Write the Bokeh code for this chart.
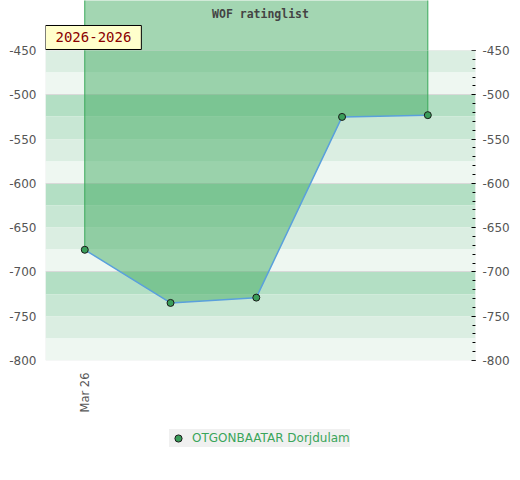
import math
from bokeh.plotting import figure
from bokeh.layouts import column
from bokeh.models import Range1d, FixedTicker, LinearAxis, Label, Legend, LegendItem, BoxAnnotation
from bokeh.embed import file_html
from bokeh.resources import INLINE

# ---- data ----
title_text = "WOF ratinglist"
period_text = "2026-2026"
player = "OTGONBAATAR Dorjdulam"
x_idx = [0, 1, 2, 3, 4]
x_tick_labels = {0: "Mar 26"}
ratings = [-675, -735, -729, -525, -523]
y_ticks = [-450, -500, -550, -600, -650, -700, -750, -800]
y_minor = list(range(-800, -449, 10))
band_top = [-450, -475, -500, -525, -550, -575, -600, -625, -650, -675, -700, -725, -750, -775]
band_bottom = [-475, -500, -525, -550, -575, -600, -625, -650, -675, -700, -725, -750, -775, -800]
band_colors = ["#dbeee2", "#eef7f1", "#b3dfc4", "#c8e7d4", "#dbeee2", "#eef7f1",
               "#b3dfc4", "#c8e7d4", "#dbeee2", "#eef7f1", "#b3dfc4", "#c8e7d4",
               "#dbeee2", "#eef7f1"]
grid_lines = [-500, -600, -700]

W, H_MAIN, H_LEG = 520, 415, 65
y_lo, y_hi = -800, -393.55
x_lo, x_hi = -0.458, 4.556

p = figure(width=W, height=H_MAIN, output_backend="svg", toolbar_location=None,
           x_range=Range1d(x_lo, x_hi), y_range=Range1d(y_lo, y_hi),
           min_border_left=45, min_border_right=45, min_border_top=0, min_border_bottom=55)
p.outline_line_color = None
p.xgrid.visible = False
p.ygrid.visible = False
p.background_fill_color = "white"
p.border_fill_color = "white"

p.hstrip(y0=band_top, y1=band_bottom, fill_color=band_colors, line_color=None)
p.hspan(y=grid_lines, line_color="#d9d9d9", line_width=1)

top_vals = [y_hi + 20] * len(x_idx)
p.varea(x=x_idx, y1=ratings, y2=top_vals, fill_color="#3ca85b", fill_alpha=0.47)
p.segment(x0=[x_idx[0], x_idx[-1]], y0=[ratings[0], ratings[-1]],
          x1=[x_idx[0], x_idx[-1]], y1=[y_hi + 20, y_hi + 20],
          line_color="#3aa85a", line_width=1)
p.line(x_idx, ratings, line_color="#5aa0dc", line_width=1.5)
p.scatter(x_idx, ratings, size=7, fill_color="#3a9e5a", line_color="#1a1a1a", line_width=1)

p.add_layout(BoxAnnotation(top=-450, bottom=-800, fill_alpha=0, line_color="#d6d6d6", line_width=1))

# axes
font = "DejaVu Sans"
p.xaxis.ticker = FixedTicker(ticks=list(x_tick_labels.keys()))
p.xaxis.major_label_overrides = x_tick_labels
p.xaxis.major_label_orientation = math.pi / 2
p.xaxis.axis_line_color = None
p.xaxis.major_tick_line_color = None
p.xaxis.minor_tick_line_color = None
p.xaxis.major_tick_out = 0
p.xaxis.minor_tick_out = 0
p.xaxis.major_label_standoff = 12
p.xaxis.major_label_text_font = font
p.xaxis.major_label_text_font_size = "11.5px"
p.xaxis.major_label_text_color = "#555555"

y_labels = {v: str(v) for v in y_ticks}
p.yaxis.ticker = FixedTicker(ticks=y_ticks)
p.yaxis.major_label_overrides = y_labels
p.yaxis.axis_line_color = None
p.yaxis.major_tick_line_color = None
p.yaxis.minor_tick_line_color = None
p.yaxis.major_tick_out = 0
p.yaxis.minor_tick_out = 0
p.yaxis.major_label_standoff = 9
p.yaxis.major_label_text_font = font
p.yaxis.major_label_text_font_size = "12px"
p.yaxis.major_label_text_color = "#555555"

ra = LinearAxis(ticker=FixedTicker(ticks=y_ticks, minor_ticks=y_minor))
ra.major_label_overrides = y_labels
ra.axis_line_color = None
ra.major_tick_in = 4
ra.major_tick_out = 0
ra.minor_tick_in = 3
ra.minor_tick_out = 0
ra.major_tick_line_color = "black"
ra.minor_tick_line_color = "black"
ra.major_label_standoff = 7
ra.major_label_text_font = font
ra.major_label_text_font_size = "12px"
ra.major_label_text_color = "#555555"
p.add_layout(ra, "right")

# title and period label
p.add_layout(Label(x=(x_lo + x_hi) / 2, y=y_hi, x_offset=0, y_offset=-13, text=title_text,
                   text_align="center", text_baseline="middle",
                   text_font="DejaVu Sans Mono", text_font_style="bold",
                   text_font_size="11.5px", text_color="#444444"))
p.add_layout(Label(x=x_lo, y=-450, text=period_text, text_align="left", text_baseline="bottom",
                   x_offset=0, y_offset=1,
                   padding=dict(left=10, right=10, top=7, bottom=7),
                   background_fill_color="#ffffcc", border_line_color="black", border_line_width=1,
                   text_font="DejaVu Sans Mono", text_font_size="14px", text_color="#8b0000"))

# legend strip below the chart (its frame aligns with the chart's frame)
pl = figure(width=W, height=H_LEG, output_backend="svg", toolbar_location=None,
            x_range=Range1d(0, 1), y_range=Range1d(0, 1),
            x_axis_location=None, y_axis_location=None,
            min_border_left=0, min_border_right=0, min_border_top=0, min_border_bottom=0)
pl.outline_line_color = None
pl.xgrid.visible = False
pl.ygrid.visible = False
pl.background_fill_color = "white"
key = pl.scatter(x=x_idx, y=ratings, size=7, fill_color="#3a9e5a", line_color="#1a1a1a", line_width=1)
legend = Legend(items=[LegendItem(label=player, renderers=[key])], location=(124, 33),
                background_fill_color="#f0f0f0", background_fill_alpha=1.0, border_line_color=None,
                label_text_color="#3aa55a", label_text_font=font, label_text_font_size="12px",
                glyph_width=18, glyph_height=18, label_height=18, padding=2, label_standoff=5,
                margin=0)
pl.add_layout(legend)

layout = column(p, pl, spacing=0)
open("out.html", "w").write(file_html(layout, INLINE))
